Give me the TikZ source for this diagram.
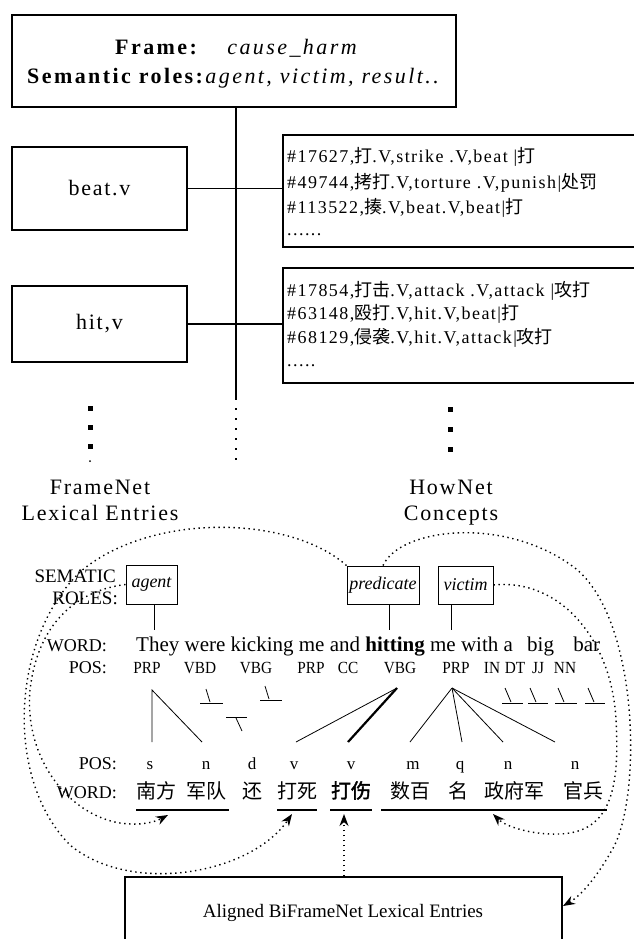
\documentclass[tikz,border=0pt]{standalone}
\usepackage{fontspec}
\setmainfont{Liberation Serif}
\newfontfamily\pix[LetterSpace=8]{Liberation Serif}
\newfontfamily\pixw[LetterSpace=11]{Liberation Serif}
\newfontfamily\tagf[FakeStretch=0.9]{Liberation Serif}
\newfontfamily\cjk[AutoFakeBold=2]{Noto Sans CJK SC}
\usetikzlibrary{arrows.meta}
\newcommand\zh[1]{{\cjk #1}}
\newcommand\fs[1]{\fontsize{#1}{#1}\selectfont}
\begin{document}
\begin{tikzpicture}[x=1pt,y=-1pt,
  box/.style={draw, line width=1.2pt, inner sep=0pt},
  rolebox/.style={draw, line width=1pt, inner sep=0pt, font=\fs{18}\itshape},
  lbl/.style={inner sep=0pt, anchor=base},
  hnt/.style={inner sep=0pt, anchor=base west, font=\pix\fs{18}},
  netlbl/.style={inner sep=0pt, anchor=base, font=\pix\fs{22}},
  tag/.style={inner sep=0pt, anchor=base, font=\tagf\fs{17}},
  ctag/.style={inner sep=0pt, anchor=base, font=\fs{17}},
  cword/.style={inner sep=0pt, anchor=base, font=\cjk\fs{20}},
  rowlbl/.style={inner sep=0pt, anchor=base east, font=\fs{18}},
  solid1/.style={line width=1.2pt},
  thinl/.style={line width=0.8pt},
  thickl/.style={line width=2.2pt},
  dotl/.style={line width=1.4pt, dash pattern=on 1.4pt off 3.6pt},
  smalldots/.style={line width=1.4pt, dash pattern=on 2pt off 8pt},
  arr/.style={-{Stealth[length=12pt,width=9pt]}}
]
\useasboundingbox (0,0) rectangle (634,939);
\fill[white] (0,0) rectangle (634,939);

% ---------- top part ----------
\node[box, minimum width=444pt, minimum height=92pt] (frame) at (234,61) {};
\node[lbl, anchor=base west, font=\pixw\fs{22}] (fl1) at (115,55) {\textbf{Frame:}\hspace{28pt}\textit{cause\_harm}};
\node[lbl, anchor=base west, font=\pixw\fs{22}] (fl2) at (27,84) {\textbf{Semantic roles:}\textit{agent, victim, result..}};

\node[box, minimum width=175pt, minimum height=83pt, font=\pix\fs{22}] (beat) at (99.5,188.5) {beat.v};
\node[box, minimum width=175pt, minimum height=76pt, font=\pix\fs{22}] (hit) at (99.5,324) {hit,v};
\node[box, minimum width=377pt, minimum height=112pt] (hn1) at (471.5,191) {};
\node[box, minimum width=377pt, minimum height=115pt] (hn2) at (471.5,325.5) {};

\coordinate (spb) at (236,398);
\coordinate (spe) at (236,460);
\draw[solid1] (frame.south -| spb) -- (spb);
\draw[smalldots] (spb) -- (spe);
\draw[solid1] (beat.east) -- (hn1.west |- beat.east);
\draw[solid1] (hit.east) -- (hn2.west |- hit.east);

\node[hnt] (h11) at (287,162) {\#17627,\zh{打}.V,strike .V,beat |\zh{打}};
\node[hnt] (h12) at (287,188) {\#49744,\zh{拷打}.V,torture .V,punish|\zh{处罚}};
\node[hnt] (h13) at (287,213) {\#113522,\zh{揍}.V,beat.V,beat|\zh{打}};
\node[hnt] (h14) at (287,235) {......};
\node[hnt] (h21) at (287,296) {\#17854,\zh{打击}.V,attack .V,attack |\zh{攻打}};
\node[hnt] (h22) at (287,319) {\#63148,\zh{殴打}.V,hit.V,beat|\zh{打}};
\node[hnt] (h23) at (287,343) {\#68129,\zh{侵袭}.V,hit.V,attack|\zh{攻打}};
\node[hnt] (h24) at (287,366) {.....};

\foreach \y in {408,427,446} \fill (87.5,\y-2.5) rectangle ++(5,5);
\fill (90,461) circle (1pt);
\foreach \y in {409,429,449} \fill (447.5,\y-2.5) rectangle ++(5,5);

\node[netlbl] (fn1) at (100,494) {FrameNet};
\node[netlbl] (fn2) at (100,520) {Lexical Entries};
\node[netlbl] (hw1) at (451,494) {HowNet};
\node[netlbl] (hw2) at (451,520) {Concepts};

% ---------- roles ----------
\node[rowlbl, font=\fs{19}] (sem1) at (116,582) {SEMATIC};
\node[rowlbl, font=\fs{19}] (sem2) at (118,604) {ROLES:};
\node[rolebox, minimum width=51pt, minimum height=39pt] (agent) at (151.5,584.5) {agent};
\node[rolebox, minimum width=72pt, minimum height=38pt] (pred) at (383,585) {predicate};
\node[rolebox, minimum width=55pt, minimum height=38pt] (victim) at (465.5,585) {victim};
\coordinate (ra) at (154,630);
\coordinate (rp) at (389,630);
\coordinate (rv) at (451,630);
\draw[thinl] (agent.south -| ra) -- (ra);
\draw[thinl] (pred.south -| rp) -- (rp);
\draw[thinl] (victim.south -| rv) -- (rv);

% ---------- English sentence ----------
\node[rowlbl] (ew) at (107,651) {WORD:};
\node[lbl, anchor=base west, font=\fs{21}] (sent) at (136,651) {They were kicking me and \textbf{hitting} me with a\hspace{9pt} big\hspace{14pt} bar};
\node[rowlbl] (ep) at (107,673) {POS:};
\foreach \t/\x [count=\i] in {PRP/147,VBD/200,VBG/256,PRP/311,CC/348,VBG/400,PRP/456,IN/492,DT/515,JJ/538,NN/565}
  \node[tag] (et\i) at (\x,673) {\t};

% alignment lines
\coordinate (p1) at (152,690);
\coordinate (p1a) at (152,742);
\coordinate (p1b) at (202,742);
\draw[thinl] (p1a) -- (p1) -- (p1b);
\draw[thinl] (206,689) -- (210,702);
\draw[thinl] (200,703) -- (223,703);
\draw[thinl] (226,717) -- (247,717);
\draw[thinl] (236,718) -- (242,731);
\draw[thinl] (265,686) -- (269,699);
\draw[thinl] (260,700) -- (282,700);
\coordinate (p6) at (397,688);
\draw[thinl] (p6) -- (296,742);
\draw[thickl] (p6) -- (348,742);
\coordinate (p7) at (452,688);
\foreach \x in {410,462,503,555} \draw[thinl] (p7) -- (\x,742);
\foreach \a/\b/\c in {505/502/523,530/528/548,558/555/577,588/585/605}{
  \draw[thinl] (\a,688) -- (\a+6,702);
  \draw[thinl] (\b,703) -- (\c,703);
}

% ---------- Chinese sentence ----------
\node[rowlbl] (cp) at (117,769) {POS:};
\foreach \t/\x [count=\i] in {s/150,n/206,d/252,v/294,v/351,m/413,q/460,n/508,n/575}
  \node[ctag] (ct\i) at (\x,769) {\t};
\node[rowlbl] (cw) at (117,798) {WORD:};
\node[cword] (w1) at (156,798) {南方};
\node[cword] (w2) at (206,798) {军队};
\node[cword] (w3) at (252,798) {还};
\node[cword] (w4) at (297,798) {打死};
\node[cword, font=\cjk\bfseries\fs{20}] (w5) at (351,798) {打伤};
\node[cword] (w6) at (410,798) {数百};
\node[cword] (w7) at (458,798) {名};
\node[cword] (w8) at (514,798) {政府军};
\node[cword] (w9) at (583,798) {官兵};
\draw[solid1] (136,810) -- (229,810);
\draw[solid1] (277,810) -- (317,810);
\draw[solid1] (330,810) -- (372,810);
\draw[solid1] (381,810) -- (607,810);

% ---------- aligned box ----------
\node[box, minimum width=437pt, minimum height=90pt] (aligned) at (343.5,922) {};
\node[lbl, font=\fs{19}] (altxt) at (343,917) {Aligned BiFrameNet Lexical Entries};

% ---------- dotted links ----------
\coordinate (tA) at (168,815);
\coordinate (tB) at (292,814);
\coordinate (tC) at (344,814);
\coordinate (tD) at (493,814);
\coordinate (tE) at (563,906);

% agent -> 南方军队
\draw[dotl, arr] (agent.west) .. controls (80,590) and (38,620) .. (30,690)
   .. controls (24,760) and (70,815) .. (120,823) .. controls (140,826) and (155,822) .. (tA);
% FrameNet arc -> 打死
\draw[dotl, arr] (pred.north west) .. controls (290,515) and (150,512) .. (80,572)
   .. controls (10,640) and (5,780) .. (70,845) .. controls (130,895) and (250,875) .. (tB);
% aligned -> 打伤
\draw[dotl, arr] (aligned.north -| tC) -- (tC);
% victim -> 政府军官兵
\draw[dotl, arr] (victim.east) .. controls (560,578) and (612,640) .. (616,720)
   .. controls (620,790) and (610,832) .. (560,834) .. controls (530,835) and (505,826) .. (tD);
% HowNet arc -> aligned box
\draw[dotl, arr] (pred.north) .. controls (400,528) and (505,515) .. (575,568)
   .. controls (640,620) and (642,800) .. (612,850) .. controls (598,875) and (582,895) .. (tE);
\end{tikzpicture}
\end{document}
